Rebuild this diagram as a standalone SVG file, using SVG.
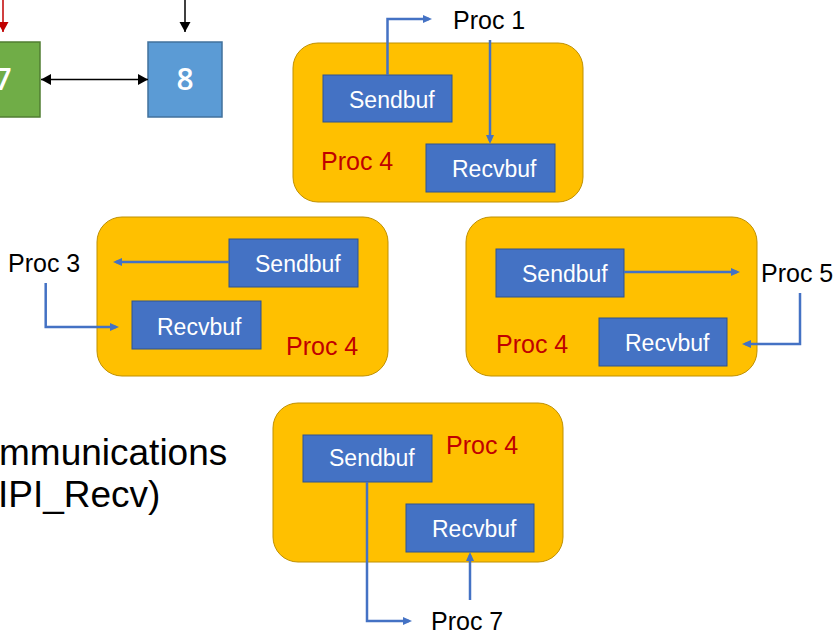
<svg xmlns="http://www.w3.org/2000/svg" width="836" height="634" viewBox="0 0 836 634">
<style>
.proc{fill:#FFC000;stroke:#BF9000;stroke-width:1}
.buf{fill:#4472C4;stroke:#2F528F;stroke-width:1}
.buft{font-family:"Liberation Sans",Arial,sans-serif;font-size:23px;fill:#FFFFFF}
.lbl{font-family:"Liberation Sans",Arial,sans-serif;font-size:25px;fill:#000000}
.red{font-family:"Liberation Sans",Arial,sans-serif;font-size:25px;fill:#C00000}
.big{font-family:"Liberation Sans",Arial,sans-serif;font-size:37px;fill:#000000}
.num{font-family:"Open Sans","Liberation Sans",sans-serif;font-size:30px;font-weight:600;fill:#FFFFFF;text-anchor:middle}
.ba{fill:none;stroke:#4472C4;stroke-width:2.5;marker-end:url(#bh)}
.ka{fill:none;stroke:#000000;stroke-width:1.5}
</style>
<defs>
<marker id="bh" markerUnits="userSpaceOnUse" markerWidth="10" markerHeight="9" refX="6" refY="4" orient="auto">
<path d="M0,0 L9,4 L0,8 z" fill="#4472C4"/>
</marker>
<marker id="kh" markerUnits="userSpaceOnUse" markerWidth="11" markerHeight="12" refX="10" refY="5.5" orient="auto">
<path d="M0,0 L10,5.5 L0,11 z" fill="#000000"/>
</marker>
<marker id="ks" markerUnits="userSpaceOnUse" markerWidth="11" markerHeight="12" refX="0" refY="5.5" orient="auto">
<path d="M10,0 L0,5.5 L10,11 z" fill="#000000"/>
</marker>
<marker id="rh" markerUnits="userSpaceOnUse" markerWidth="11" markerHeight="12" refX="10" refY="5.5" orient="auto">
<path d="M0,0 L10,5.5 L0,11 z" fill="#C00000"/>
</marker>
</defs>

<g id="node7">
<rect x="-34" y="42" width="74" height="75" fill="#70AD47" stroke="#507E32" stroke-width="1.5"/>
<text class="num" x="3" y="90">7</text>
</g>
<g id="node8">
<rect x="148" y="42" width="74" height="75" fill="#5B9BD5" stroke="#41719C" stroke-width="1.5"/>
<text class="num" x="185" y="90">8</text>
</g>

<g id="text-left">
<text class="big" x="-1" y="465">mmunications</text>
<text class="big" x="-2" y="507">IPI_Recv)</text>
</g>

<g id="proc-top">
<rect class="proc" x="293" y="43" width="290" height="159" rx="25"/>
<rect class="buf" x="323" y="75" width="129" height="47"/>
<text class="buft" x="349" y="107.5">Sendbuf</text>
<rect class="buf" x="426" y="144" width="129" height="48"/>
<text class="buft" x="452" y="176.5">Recvbuf</text>
<text class="red" x="321" y="170">Proc 4</text>
</g>

<g id="proc-midleft">
<rect class="proc" x="97" y="217" width="291" height="159" rx="25"/>
<rect class="buf" x="229" y="239" width="129" height="48"/>
<text class="buft" x="255" y="271.5">Sendbuf</text>
<rect class="buf" x="132" y="301" width="129" height="48"/>
<text class="buft" x="157" y="334.5">Recvbuf</text>
<text class="red" x="286" y="355">Proc 4</text>
</g>

<g id="proc-midright">
<rect class="proc" x="466" y="217" width="291" height="159" rx="25"/>
<rect class="buf" x="496" y="249" width="128" height="48"/>
<text class="buft" x="522" y="281.5">Sendbuf</text>
<rect class="buf" x="599" y="318" width="128" height="48"/>
<text class="buft" x="625" y="350.5">Recvbuf</text>
<text class="red" x="496" y="353">Proc 4</text>
</g>

<g id="proc-bottom">
<rect class="proc" x="273" y="403" width="290" height="159" rx="25"/>
<rect class="buf" x="303" y="435" width="129" height="47"/>
<text class="buft" x="329" y="466">Sendbuf</text>
<rect class="buf" x="406" y="504" width="128" height="48"/>
<text class="buft" x="432" y="536.5">Recvbuf</text>
<text class="red" x="446" y="454">Proc 4</text>
</g>

<g id="proc1"><text class="lbl" x="453" y="29">Proc 1</text></g>
<g id="proc3"><text class="lbl" x="8" y="272">Proc 3</text></g>
<g id="proc5"><text class="lbl" x="761" y="282">Proc 5</text></g>
<g id="proc7"><text class="lbl" x="431" y="630">Proc 7</text></g>

<g id="connectors">
<path class="ka" d="M3,0 V32" style="stroke:#C00000;marker-end:url(#rh)"/>
<path class="ka" d="M185,0 V32" style="marker-end:url(#kh)"/>
<path class="ka" d="M41,79.5 H148" style="marker-start:url(#ks);marker-end:url(#kh)"/>
<path class="ba" d="M387.5,75 V19 H429"/>
<path class="ba" d="M490,40 V141"/>
<path class="ba" d="M229,262 H116"/>
<path class="ba" d="M45.7,283 V327 H116"/>
<path class="ba" d="M624,272 H737"/>
<path class="ba" d="M800,293 V344 H745"/>
<path class="ba" d="M367,482 V621 H409"/>
<path class="ba" d="M470,600 V555"/>
</g>
</svg>
